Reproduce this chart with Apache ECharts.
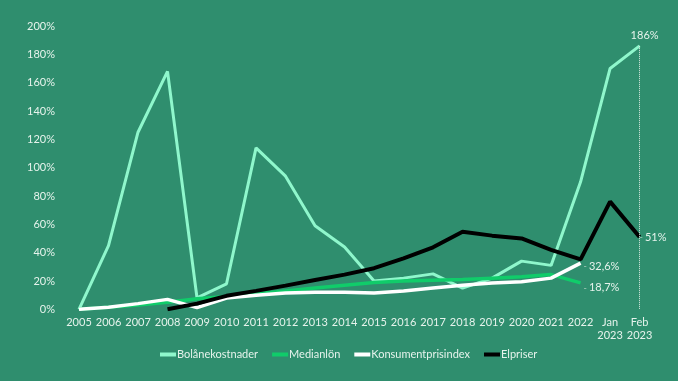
<!DOCTYPE html>
<html>
<head>
<meta charset="utf-8">
<script src="https://cdn.jsdelivr.net/npm/echarts@6/dist/echarts.min.js"></script>
<style>
html,body{margin:0;padding:0;background:#2f8e6e;}
#c{width:678px;height:381px;}
</style>
</head>
<body>
<div id="c"></div>
<script>
var categories = ['2005','2006','2007','2008','2009','2010','2011','2012','2013','2014','2015','2016','2017','2018','2019','2020','2021','2022','Jan\n2023','Feb\n2023'];
var yTicks = [0,20,40,60,80,100,120,140,160,180,200];
var bolanekostnader = [0,45,125,168,8,18,114,94,59,44,20,22,25,15,22,34,31,90,170,186];
var medianlon = [0,1.5,3,5,7.5,9,11,13,15,17,19,20,20.5,21,22,23,24.5,18.7,null,null];
var konsumentprisindex = [0,1.5,4,7,1.2,8,10,11.5,12,12,11.5,13,15,17,18.5,19.5,22,32.6,null,null];
var elpriser = [null,null,null,0,4,9.5,13,16.7,20.7,24.5,29,36,43.8,54.8,52,50,42,35.3,76,51];

var txt = '#e6f3ec';
var font = 'Lato';

function fmt(v){ return String(v).replace('.', ',') + '%'; }

function withEndLabel(arr, idx, labelOpt, dash){
  return arr.map(function(v, i){
    if (i === idx) return {
      value: v,
      symbol: 'circle', symbolSize: 0.01,
      label: Object.assign({
        show: true,
        formatter: function(p){ return (dash ? '{d|-}' : '') + '{t|' + fmt(p.value) + '}'; },
        rich: {
          d: {color: '#a9cdbd', fontFamily: font, fontSize: 9, padding: [0, 2, 0, 0]},
          t: {color: txt, fontFamily: font, fontSize: 11}
        }
      }, labelOpt)
    };
    return v;
  });
}

var chart = echarts.init(document.getElementById('c'), null, {renderer: 'canvas'});
chart.setOption({
  backgroundColor: '#2f8e6e',
  animation: false,
  grid: {left: 79, right: 38.4, top: 26, bottom: 71.7},
  legend: {
    top: 344,
    left: 155,
    icon: 'rect',
    itemWidth: 16,
    itemHeight: 4,
    itemGap: 14,
    textStyle: {color: txt, fontFamily: font, fontSize: 11, padding: [0,0,0,-4]},
    data: ['Bolånekostnader','Medianlön','Konsumentprisindex','Elpriser']
  },
  xAxis: {
    type: 'category',
    data: categories,
    boundaryGap: false,
    axisLine: {show: false},
    axisTick: {show: false},
    axisLabel: {color: txt, fontFamily: font, fontSize: 11, margin: 7, lineHeight: 12.5, interval: 0}
  },
  yAxis: {
    type: 'value',
    min: yTicks[0],
    max: yTicks[yTicks.length-1],
    interval: yTicks[1]-yTicks[0],
    splitLine: {show: false},
    axisLine: {show: false},
    axisTick: {show: false},
    axisLabel: {color: txt, fontFamily: font, fontSize: 11, margin: 24, formatter: '{value}%'}
  },
  series: [
    {
      name: 'Bolånekostnader', type: 'line', symbol: 'none', showSymbol: true,
      color: '#8ff7cc',
      lineStyle: {width: 3, color: '#8ff7cc'},
      data: withEndLabel(bolanekostnader, 19, {position: 'top', distance: 5, offset: [5,0]}, false),
      markLine: {
        silent: true, symbol: 'none', label: {show: false},
        lineStyle: {color: '#dfeee6', type: 'dotted', width: 1},
        data: [[{coord: [categories[19], bolanekostnader[19]]}, {coord: [categories[19], 0]}]]
      }
    },
    {
      name: 'Medianlön', type: 'line', symbol: 'none', showSymbol: true,
      color: '#10cc6a',
      lineStyle: {width: 3.5, color: '#10cc6a'},
      data: withEndLabel(medianlon, 17, {position: 'right', distance: 3, offset: [0,5]}, true)
    },
    {
      name: 'Konsumentprisindex', type: 'line', symbol: 'none', showSymbol: true,
      color: '#ffffff',
      lineStyle: {width: 3.5, color: '#ffffff'},
      data: withEndLabel(konsumentprisindex, 17, {position: 'right', distance: 3, offset: [0,3]}, true)
    },
    {
      name: 'Elpriser', type: 'line', symbol: 'none', showSymbol: true,
      color: '#000000',
      lineStyle: {width: 4, color: '#000000'},
      data: withEndLabel(elpriser, 19, {position: 'right', distance: 0}, true)
    }
  ]
});
</script>
</body>
</html>
